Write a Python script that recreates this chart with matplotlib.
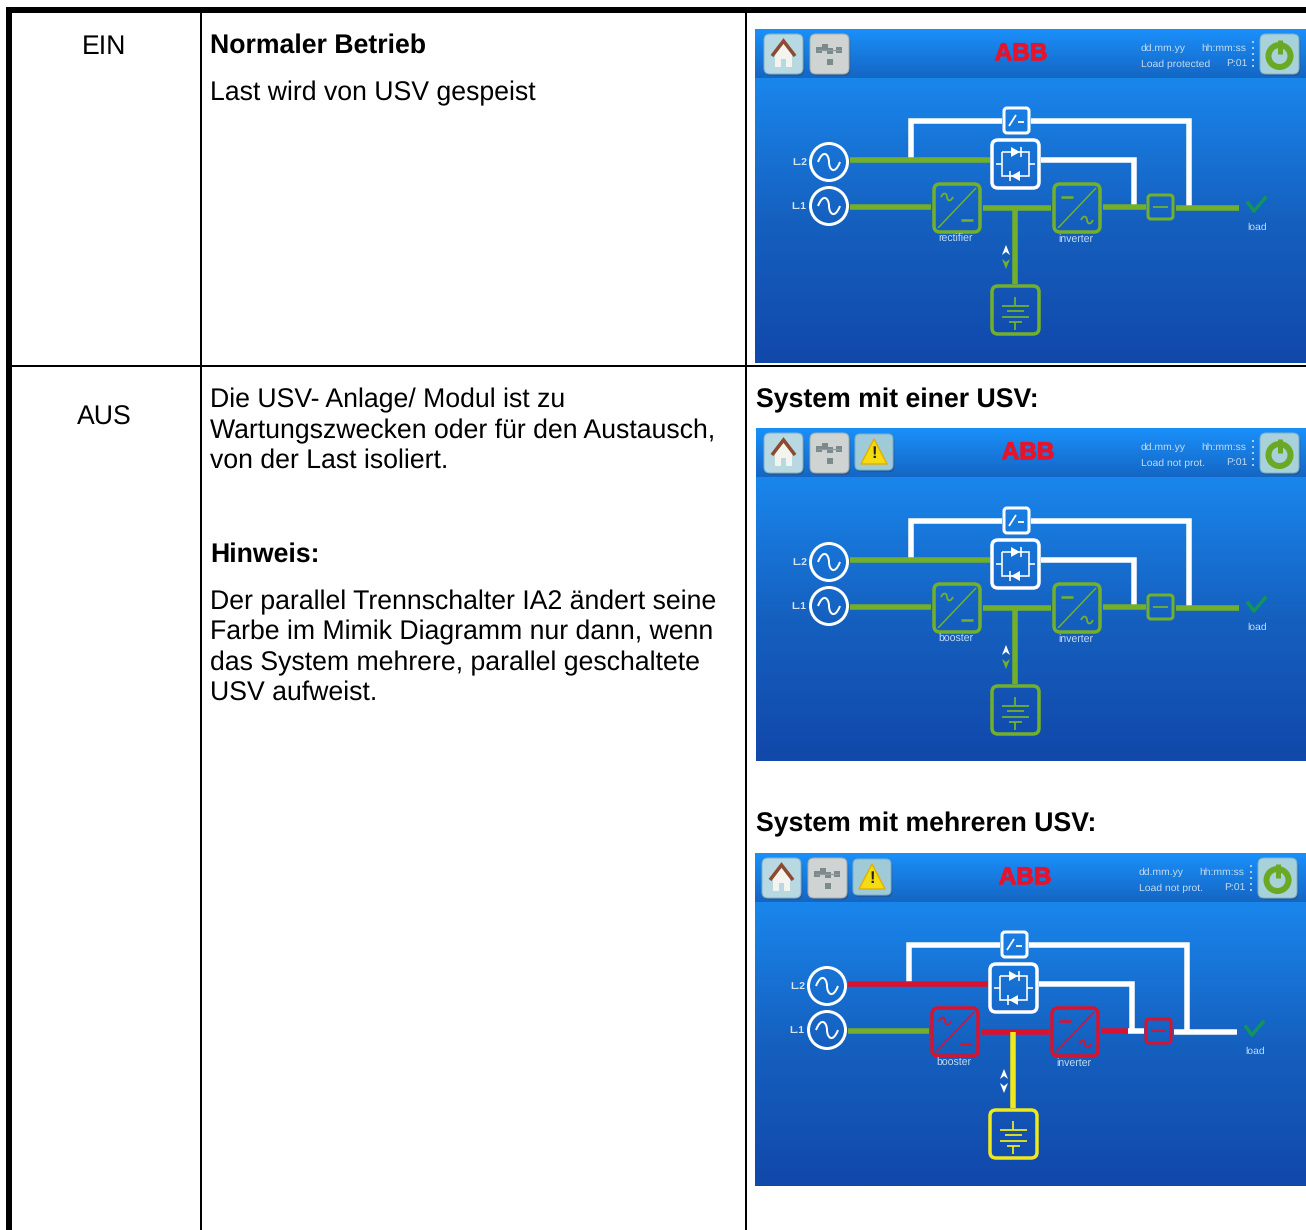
import numpy as np
import matplotlib
matplotlib.use('Agg')
import matplotlib.pyplot as plt
import matplotlib.patheffects as pe
from matplotlib.patches import Circle, FancyBboxPatch, PathPatch, Polygon, Rectangle
from matplotlib.path import Path
from matplotlib.colors import LinearSegmentedColormap

plt.rcParams['font.family'] = ['Liberation Sans', 'DejaVu Sans']
plt.rcParams['text.hinting'] = 'no_hinting'

GREEN = '#72b02c'
WHITE = '#ffffff'
RED = '#d9122e'
YELLOW = '#efe81c'

# table text: x, baseline, text, bold
left_cells = [(104, 54, 'EIN'), (104, 425, 'AUS')]
text_lines = [
    (210, 53, 'Normaler Betrieb', True),
    (210, 100, 'Last wird von USV gespeist', False),
    (210, 407, 'Die USV- Anlage/ Modul ist zu', False),
    (210, 438, 'Wartungszwecken oder für den Austausch,', False),
    (210, 468, 'von der Last isoliert.', False),
    (210, 562, 'Hinweis:', True),
    (210, 609, 'Der parallel Trennschalter IA2 ändert seine', False),
    (210, 639, 'Farbe im Mimik Diagramm nur dann, wenn', False),
    (210, 670, 'das System mehrere, parallel geschaltete', False),
    (210, 700, 'USV aufweist.', False),
    (756, 407, 'System mit einer USV:', True),
    (756, 831, 'System mit mehreren USV:', True),
]

# the three screens
panel_left = [755, 756, 755]
panel_top = [29, 428, 853]
panel_height = [334, 333, 333]
content_dx = [0, -1, -2]
content_dy = [-2, -1, -2]
abb_x = [266, 272, 270]
status_text = ['Load protected', 'Load not prot.', 'Load not prot.']
conv_label = ['rectifier', 'booster', 'booster']
has_warning = [False, True, True]
l2_color = [GREEN, GREEN, RED]
conv_color = [GREEN, GREEN, RED]
mid_color = [GREEN, GREEN, RED]
dc_color = [GREEN, GREEN, YELLOW]
out_color = [GREEN, GREEN, RED]
join_color = [GREEN, GREEN, WHITE]
cb_color = [GREEN, GREEN, RED]
load_color = [GREEN, GREEN, WHITE]
arrow_color = [GREEN, GREEN, WHITE]

fig = plt.figure(figsize=(13.06, 12.30), dpi=100)
ax = fig.add_axes([0, 0, 1, 1])

bg = LinearSegmentedColormap.from_list('bg', ['#1a86ec', '#1560bf', '#1148aa'])
head = LinearSegmentedColormap.from_list('head', ['#1a90fa', '#1566c4'])
btn_shadow = [pe.withSimplePatchShadow(offset=(1, -1.5), alpha=0.35)]


def line(xs, ys, color, width=5.5, z=3):
    ax.plot(xs, ys, color=color, lw=width * 0.72, solid_capstyle='butt',
            solid_joinstyle='miter', zorder=z)


def box(x0, y0, x1, y1, edge, face='none', width=3.5, rad=6, z=4, effects=None):
    p = FancyBboxPatch((x0 + rad, y0 + rad), x1 - x0 - 2 * rad, y1 - y0 - 2 * rad,
                       boxstyle='round,pad=%d,rounding_size=%d' % (rad, rad),
                       ec=edge, fc=face, lw=width * 0.72, zorder=z)
    if effects:
        p.set_path_effects(effects)
    ax.add_patch(p)


def label(x, y, s, size=7.5, color='#c4dcf2', weight='normal', ha='left'):
    ax.text(x, y, s, fontsize=size, color=color, fontweight=weight, ha=ha, va='center', zorder=6)


def wave(cx, cy, color, w=11, h=7, lw=2.0):
    verts = [(cx - w, cy), (cx - w * 0.5, cy - h * 2), (cx, cy - h), (cx, cy),
             (cx, cy + h), (cx + w * 0.5, cy + h * 2), (cx + w, cy)]
    codes = [Path.MOVETO] + [Path.CURVE4] * 6
    ax.add_patch(PathPatch(Path(verts, codes), fc='none', ec=color, lw=lw * 0.72, zorder=5))


def converter(x0, y0, x1, y1, color, ac_first):
    box(x0, y0, x1, y1, color)
    line([x0 + 4, x1 - 4], [y1 - 4, y0 + 4], color, 1.5, 5)
    upper = (x0 + 13, y0 + 13)
    lower = (x1 - 13, y1 - 12)
    ac, dc = (upper, lower) if ac_first else (lower, upper)
    wave(ac[0], ac[1], color, 6, 3, 1.8)
    line([dc[0] - 6, dc[0] + 6], [dc[1], dc[1]], color, 2.6, 5)


def draw_panel(i):
    x, y = panel_left[i], panel_top[i]
    h = panel_height[i]
    grad = np.linspace(0, 1, 200).reshape(-1, 1)
    ax.imshow(grad, cmap=bg, extent=(x, 1306, y + h, y + 49), aspect='auto', zorder=1)
    ax.imshow(grad, cmap=head, extent=(x, 1306, y + 49, y), aspect='auto', zorder=1)

    dx, dy = x + content_dx[i], y + content_dy[i]

    def X(v):
        return dx + v

    def Y(v):
        return dy + v

    # header buttons
    top = y + 5
    bot = y + 45
    box(X(9), top, X(48), bot, '#7fb0cc', '#b8d8e2', 1.0, 6, effects=btn_shadow)
    ax.add_patch(Polygon([(X(20), y + 25), (X(28.5), y + 12), (X(37), y + 25), (X(37), y + 38),
                          (X(20), y + 38)], fc='#f4f4ee', ec='none', zorder=5))
    line([X(17), X(28.5), X(40)], [y + 27, y + 12, y + 27], '#8c4a30', 3.5, 6)
    ax.add_patch(Rectangle((X(26), y + 30), 5, 8, fc='#b8d8e2', zorder=6))

    box(X(55), top, X(94), bot, '#a0b0b8', '#cfd3d2', 1.0, 6, effects=btn_shadow)
    for ox, oy in [(70, 18), (84, 21), (75, 22), (64, 21), (75, 33)]:
        ax.add_patch(Rectangle((X(ox) - 3, y + oy - 3), 6, 6, fc='#7d8a8c', zorder=5))
    line([X(62), X(86)], [y + 21, y + 21], '#8f9a9c', 1.2, 5)

    if has_warning[i]:
        box(X(100), top + 1, X(138), bot - 3, '#7fb0cc', '#9fcbd8', 1.0, 5, effects=btn_shadow)
        ax.add_patch(Polygon([(X(106), y + 36), (X(119), y + 11), (X(132), y + 36)],
                             fc='#f5dc12', ec='#e0b000', lw=1, joinstyle='round', zorder=5))
        label(X(119), y + 26, '!', 12, '#222222', 'bold', 'center')

    ax.text(x + abb_x[i], y + 25, 'ABB', fontsize=17.5, color='#e5142c', fontweight='bold',
            ha='center', va='center', zorder=6,
            path_effects=[pe.withStroke(linewidth=0.8, foreground='#e5142c')])

    label(X(386), y + 19.5, 'dd.mm.yy')
    label(X(446), y + 19.5, 'hh:mm:ss')
    label(X(386), y + 35, status_text[i])
    label(X(471), y + 35, 'P:01')
    for yy in range(12, 42, 6):
        ax.add_patch(Rectangle((X(497), y + yy), 2, 2, fc='#a8cdea', zorder=5))

    box(X(505), top, X(544), bot, '#7fb0cc', '#a8d2da', 1.0, 6, effects=btn_shadow)
    ax.add_patch(Circle((X(524.5), y + 27), 11, fc='none', ec='#6aa825', lw=6 * 0.72, zorder=6))
    line([X(524.5), X(524.5)], [y + 11, y + 25], '#6aa825', 5, 7)

    # white bypass and static switch lines
    line([X(156), X(156), X(247)], [Y(133), Y(93.5), Y(93.5)], WHITE)
    line([X(276), X(434), X(434)], [Y(93.5), Y(93.5), Y(180)], WHITE)
    line([X(286), X(379), X(379)], [Y(133), Y(133), Y(178)], WHITE)

    # sources
    for cy, name, lx in [(135, 'L.2', 45), (179, 'L.1', 44)]:
        ax.add_patch(Circle((X(74), Y(cy)), 18.5, fc='none', ec=WHITE, lw=3 * 0.72, zorder=5))
        wave(X(74), Y(cy), WHITE)
        label(X(lx), Y(cy), name, 7.5, '#d5e6f5', 'bold', 'center')

    line([X(95), X(235)], [Y(133), Y(133)], l2_color[i])
    line([X(95), X(176)], [Y(180), Y(180)], GREEN)
    line([X(228), X(296)], [Y(181), Y(181)], mid_color[i])
    line([X(348), X(375)], [Y(180), Y(180)], out_color[i])
    line([X(375), X(391)], [Y(180), Y(180)], join_color[i])
    line([X(421), X(484)], [Y(181), Y(181)], load_color[i])
    line([X(260), X(260)], [Y(181), Y(257)], dc_color[i])

    converter(X(179), Y(157), X(225), Y(205), conv_color[i], True)
    converter(X(299), Y(157), X(345), Y(205), conv_color[i], False)
    label(X(201), Y(212), conv_label[i], 7.6, ha='center')
    label(X(321), Y(213), 'inverter', 7.6, ha='center')

    # manual bypass switch
    box(X(249), Y(81), X(274), Y(106), WHITE, 'none', 3.0, 3)
    line([X(254), X(261)], [Y(99), Y(88)], WHITE, 1.8, 5)
    line([X(263), X(269)], [Y(95), Y(95)], WHITE, 1.8, 5)

    # static switch
    box(X(237), Y(113), X(284), Y(161), WHITE, 'none', 3.5, 6)
    line([X(247), X(247), X(274), X(274), X(247)],
         [Y(125), Y(149), Y(149), Y(125), Y(125)], WHITE, 1.6, 5)
    line([X(241), X(247)], [Y(137), Y(137)], WHITE, 1.6, 5)
    line([X(274), X(280)], [Y(137), Y(137)], WHITE, 1.6, 5)
    ax.add_patch(Polygon([(X(256), Y(120)), (X(265), Y(125)), (X(256), Y(130))], fc=WHITE, zorder=6))
    ax.add_patch(Polygon([(X(265), Y(144)), (X(256), Y(149)), (X(265), Y(154))], fc=WHITE, zorder=6))
    line([X(266), X(266)], [Y(120), Y(130)], WHITE, 1.6, 6)
    line([X(255), X(255)], [Y(144), Y(154)], WHITE, 1.6, 6)

    # output breaker
    box(X(393), Y(168), X(418), Y(192), cb_color[i], 'none', 3.0, 3)
    line([X(398), X(413)], [Y(180), Y(180)], cb_color[i], 1.8, 5)

    # battery
    box(X(237), Y(259), X(284), Y(307), dc_color[i], 'none', 3.5, 6)
    line([X(260), X(260)], [Y(270), Y(279)], dc_color[i], 1.8, 5)
    line([X(247), X(274)], [Y(279), Y(279)], dc_color[i], 1.8, 5)
    line([X(252), X(269)], [Y(284), Y(284)], dc_color[i], 1.8, 5)
    line([X(247), X(274)], [Y(290), Y(290)], dc_color[i], 1.8, 5)
    line([X(254), X(267)], [Y(295), Y(295)], dc_color[i], 1.8, 5)
    line([X(260), X(260)], [Y(295), Y(303)], dc_color[i], 1.8, 5)

    # battery arrows
    ax.add_patch(Polygon([(X(247), Y(228)), (X(251), Y(218)), (X(255), Y(228)), (X(251), Y(225))],
                         fc=WHITE, zorder=6))
    ax.add_patch(Polygon([(X(247), Y(232)), (X(251), Y(235)), (X(255), Y(232)), (X(251), Y(242))],
                         fc=arrow_color[i], zorder=6))

    # load tick
    ax.plot([X(493), X(499), X(510)], [Y(176), Y(184), Y(171)], color='#12955a',
            lw=3.5 * 0.72, zorder=6)
    label(X(502), Y(200), 'load', 7.5, ha='center')


for i in range(3):
    draw_panel(i)

# table rules
ax.add_patch(Rectangle((6, 7), 1300, 6, fc='black', zorder=8))
ax.add_patch(Rectangle((6, 7), 6, 1223, fc='black', zorder=8))
ax.add_patch(Rectangle((200, 12), 2, 1218, fc='black', zorder=8))
ax.add_patch(Rectangle((745, 12), 2, 1218, fc='black', zorder=8))
ax.add_patch(Rectangle((12, 365), 1294, 2, fc='black', zorder=8))

for x, y, s in left_cells:
    ax.text(x, y, s, fontsize=19.2, ha='center', va='baseline', color='black')
for x, y, s, bold in text_lines:
    ax.text(x, y, s, fontsize=19.2, ha='left', va='baseline', color='black',
            fontweight='bold' if bold else 'normal')

ax.set_xlim(0, 1306)
ax.set_ylim(1230, 0)
ax.axis('off')
fig.savefig('out.png', dpi=100, facecolor='white')
